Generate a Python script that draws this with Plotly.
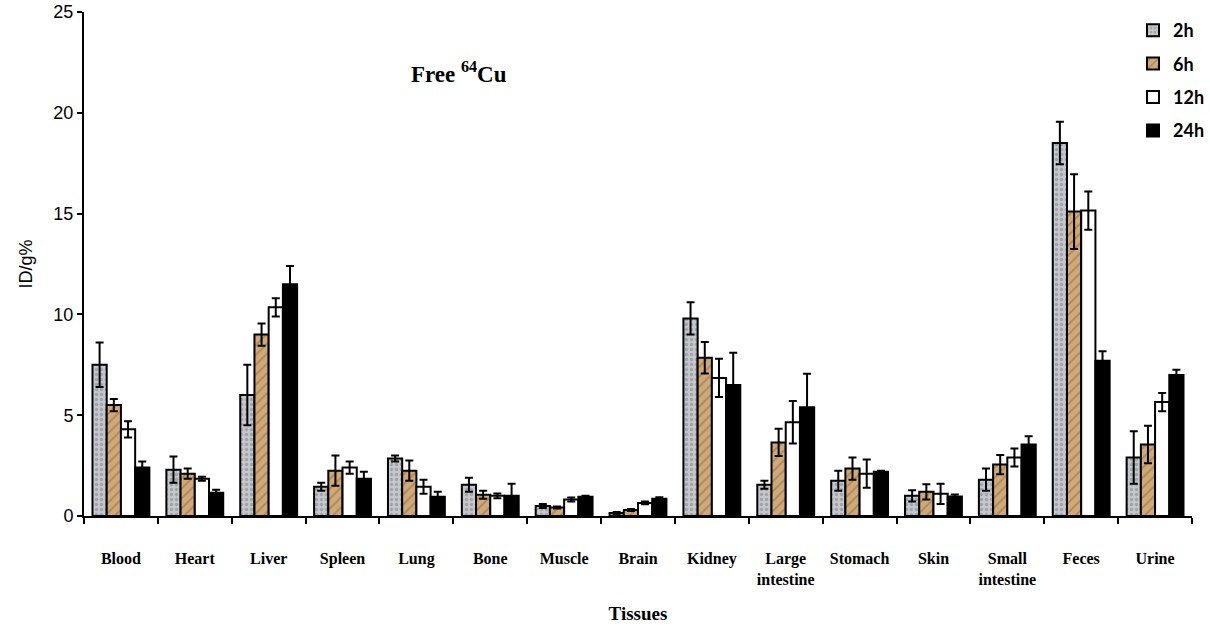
import plotly.graph_objects as go

tissues = ["Blood", "Heart", "Liver", "Spleen", "Lung", "Bone", "Muscle", "Brain",
           "Kidney", "Large<br>intestine", "Stomach", "Skin", "Small<br>intestine",
           "Feces", "Urine"]

v2h  = [7.5, 2.3, 6.0, 1.45, 2.85, 1.55, 0.5, 0.15, 9.8, 1.55, 1.75, 1.0, 1.8, 18.5, 2.9]
e2h  = [1.1, 0.65, 1.5, 0.2, 0.15, 0.35, 0.1, 0.05, 0.8, 0.2, 0.5, 0.28, 0.55, 1.05, 1.3]
v6h  = [5.5, 2.1, 9.0, 2.25, 2.25, 1.05, 0.42, 0.3, 7.85, 3.65, 2.35, 1.2, 2.55, 15.1, 3.55]
e6h  = [0.3, 0.25, 0.55, 0.75, 0.5, 0.2, 0.05, 0.05, 0.78, 0.68, 0.55, 0.38, 0.48, 1.85, 0.93]
v12h = [4.3, 1.85, 10.35, 2.4, 1.45, 1.0, 0.82, 0.65, 6.85, 4.65, 2.1, 1.1, 2.9, 15.15, 5.65]
e12h = [0.4, 0.1, 0.45, 0.3, 0.35, 0.12, 0.1, 0.07, 0.95, 1.05, 0.7, 0.5, 0.45, 0.95, 0.45]
v24h = [2.4, 1.15, 11.5, 1.85, 0.95, 1.0, 0.95, 0.85, 6.5, 5.4, 2.2, 0.97, 3.55, 7.7, 7.0]
e24h = [0.3, 0.15, 0.9, 0.35, 0.25, 0.6, 0.05, 0.08, 1.6, 1.65, 0.05, 0.1, 0.4, 0.47, 0.25]

series_names = ["2h", "6h", "12h", "24h"]
values = [v2h, v6h, v12h, v24h]
errors = [e2h, e6h, e12h, e24h]
fills = ["#c4c7cc", "#c9a272", "#ffffff", "#000000"]
patterns = [
    dict(shape=".", fgcolor="#7d7f85", bgcolor="#c4c7cc", size=5, solidity=0.35),
    dict(shape="/", fgcolor="#8a6535", bgcolor="#cfa97a", size=7, solidity=0.25),
    dict(shape=""),
    dict(shape=""),
]

fig = go.Figure()
for name, v, e, c, p in zip(series_names, values, errors, fills, patterns):
    fig.add_trace(go.Bar(
        name=name, x=tissues, y=v,
        marker=dict(color=c, line=dict(color="#000000", width=2), pattern=p),
        error_y=dict(type="data", array=e, color="#000000", thickness=2, width=4),
        legendgroup=name,
    ))

fig.update_layout(
    width=1210, height=627,
    margin=dict(l=84, r=0, t=12, b=111),
    paper_bgcolor="white", plot_bgcolor="white",
    barmode="group", bargap=0.23, bargroupgap=0,
    showlegend=True,
    legend=dict(x=0.947, y=1.0, xanchor="left", yanchor="top",
                font=dict(family="Lato", size=18, color="#000", weight="bold"),
                traceorder="grouped", tracegroupgap=7, bgcolor="rgba(0,0,0,0)"),
    xaxis=dict(
        type="category", showline=True, linecolor="#000", linewidth=2,
        ticks="outside", tickson="boundaries", ticklen=6, tickwidth=2, tickcolor="#000",
        tickfont=dict(family="Liberation Serif", size=16, color="#000", weight="bold"),
        ticklabelstandoff=27,
        title=dict(text="Tissues", standoff=20,
                   font=dict(family="Liberation Serif", size=19, color="#000", weight="bold")),
        showgrid=False, zeroline=False,
    ),
    yaxis=dict(
        range=[0, 25], tickvals=[0, 5, 10, 15, 20, 25],
        showline=True, linecolor="#000", linewidth=2,
        ticks="outside", ticklen=5, tickwidth=2, tickcolor="#000",
        tickfont=dict(family="Liberation Sans", size=18, color="#000"),
        title=dict(text="ID/g%", standoff=16,
                   font=dict(family="Liberation Sans", size=18, color="#000")),
        showgrid=False, zeroline=False,
    ),
    annotations=[dict(
        text="Free <sup>64</sup>Cu", x=0.338, y=0.88, xref="paper", yref="paper",
        xanchor="center", yanchor="middle", showarrow=False,
        font=dict(family="Liberation Serif", size=23, color="#000", weight="bold"),
    )],
)

fig.write_html("out.html")
